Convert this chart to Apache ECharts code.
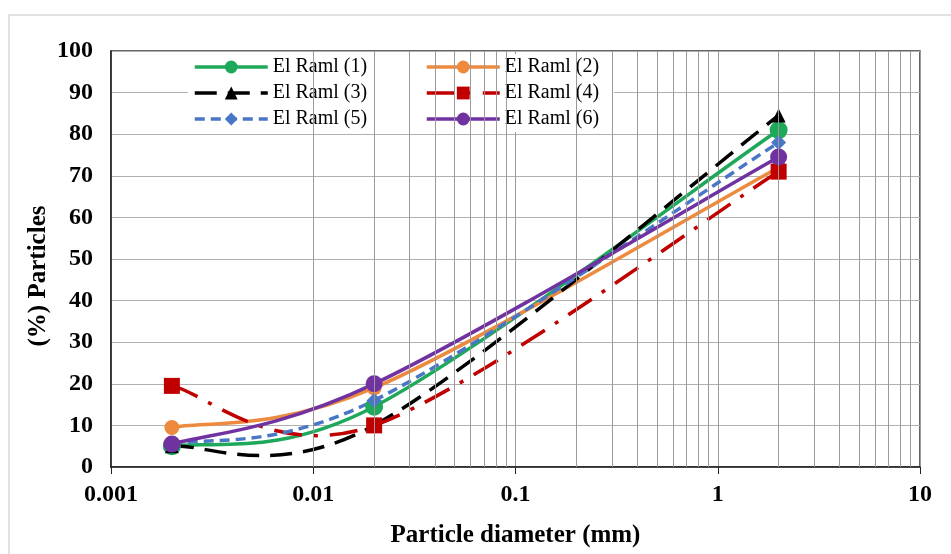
<!DOCTYPE html>
<html>
<head>
<meta charset="utf-8">
<script src="https://cdn.jsdelivr.net/npm/echarts@6/dist/echarts.min.js"></script>
<style>
  html, body { margin: 0; padding: 0; background: #fff; }
  #chart { width: 951px; height: 554px; }
</style>
</head>
<body>
<div id="chart"></div>
<script>
// particle diameters (mm) where samples were taken
const diameters = [0.002, 0.02, 2];

const seriesNames = ['El Raml (1)', 'El Raml (2)', 'El Raml (3)', 'El Raml (4)', 'El Raml (5)', 'El Raml (6)'];
const raml1 = [5, 14.5, 81];
const raml2 = [9.5, 19, 72];
const raml3 = [5, 10, 84.5];
const raml4 = [19.5, 10, 71];
const raml5 = [5.5, 16, 78];
const raml6 = [5.5, 20, 74.5];

// minor log gridlines (2..9 in each decade)
const minorGrid = [0.002, 0.003, 0.004, 0.005, 0.006, 0.007, 0.008, 0.009,
  0.02, 0.03, 0.04, 0.05, 0.06, 0.07, 0.08, 0.09,
  0.2, 0.3, 0.4, 0.5, 0.6, 0.7, 0.8, 0.9,
  2, 3, 4, 5, 6, 7, 8, 9];

const serif = 'Liberation Serif, Times New Roman, serif';
const LW = 3.5;
const chart = echarts.init(document.getElementById('chart'));

function pts(vals) {
  return diameters.map((d, i) => [d, vals[i]]);
}

// markers only; the curve itself is drawn by the custom series below
function markerSeries(name, vals, color, symbol, size, dash) {
  return {
    name: name,
    type: 'line',
    data: pts(vals),
    symbol: symbol,
    symbolSize: size,
    z: 4,
    itemStyle: { color: color },
    lineStyle: { color: color, width: LW, type: dash, opacity: 0 },
    emphasis: { disabled: true }
  };
}

// excel-like smoothed curve: cubic bezier, control arms = (next - prev) / 6
function curveSeries(name, vals, color, dash) {
  return {
    name: name,
    type: 'custom',
    data: pts(vals),
    z: 3,
    silent: true,
    renderItem: function (params, api) {
      const i = params.dataIndex;
      const n = vals.length;
      if (i >= n - 1) return null;
      const P = diameters.map((d, j) => api.coord([d, vals[j]]));
      const prev = P[Math.max(i - 1, 0)], a = P[i], b = P[i + 1], next = P[Math.min(i + 2, n - 1)];
      return {
        type: 'bezierCurve',
        shape: {
          x1: a[0], y1: a[1], x2: b[0], y2: b[1],
          cpx1: a[0] + (b[0] - prev[0]) / 6, cpy1: a[1] + (b[1] - prev[1]) / 6,
          cpx2: b[0] - (next[0] - a[0]) / 6, cpy2: b[1] - (next[1] - a[1]) / 6
        },
        style: { stroke: color, lineWidth: LW, lineDash: dash === 'solid' ? null : dash, fill: null }
      };
    }
  };
}

const styles = [
  { color: '#1ea85a', symbol: 'circle', size: 18, dash: 'solid' },
  { color: '#ed8a3e', symbol: 'circle', size: 15, dash: 'solid' },
  { color: '#000000', symbol: 'triangle', size: 14, dash: [22, 11] },
  { color: '#c00000', symbol: 'rect', size: 16, dash: [28, 12, 4, 12] },
  { color: '#4a76c6', symbol: 'diamond', size: 15, dash: [10, 6] },
  { color: '#7032a0', symbol: 'circle', size: 17, dash: 'solid' }
];
const allVals = [raml1, raml2, raml3, raml4, raml5, raml6];

const legendBase = {
  orient: 'vertical',
  itemWidth: 73,
  itemHeight: 16,
  itemGap: 6,
  backgroundColor: '#fff',
  lineStyle: { width: 3, opacity: 1 },
  textStyle: { fontFamily: serif, fontSize: 20, color: '#000', lineHeight: 20 },
  selectedMode: false
};

function legendItems(idx) {
  return idx.map(k => ({
    name: seriesNames[k],
    lineStyle: { width: 3.5, opacity: 1, color: styles[k].color },
    itemStyle: { color: styles[k].color }
  }));
}

const series = [{
  name: 'minor grid',
  type: 'line',
  data: [],
  z: 1,
  silent: true,
  markLine: {
    silent: true,
    symbol: 'none',
    label: { show: false },
    animation: false,
    lineStyle: { color: '#9a9a9a', width: 1, type: 'solid' },
    emphasis: { disabled: true },
    data: minorGrid.map(v => ({ xAxis: v }))
  }
}];
seriesNames.forEach((nm, k) => {
  const s = styles[k];
  series.push(markerSeries(nm, allVals[k], s.color, s.symbol, s.size, s.dash));
});
seriesNames.forEach((nm, k) => {
  series.push(curveSeries(nm, allVals[k], styles[k].color, styles[k].dash));
});

chart.setOption({
  animation: false,
  backgroundColor: '#fff',
  graphic: [{
    type: 'rect',
    shape: { x: 9, y: 15, width: 1000, height: 1000 },
    style: { fill: 'none', stroke: '#d9d9d9', lineWidth: 1.5 },
    silent: true
  }],
  grid: {
    left: 111, right: 31, top: 51, bottom: 87,
    show: true, borderColor: '#333', borderWidth: 1.5
  },
  legend: [
    Object.assign({}, legendBase, {
      data: legendItems([0, 2, 4]),
      left: 188, top: 54, padding: [3, 62, 3, 5]
    }),
    Object.assign({}, legendBase, {
      data: legendItems([1, 3, 5]),
      left: 420, top: 54, padding: [3, 15, 3, 5]
    })
  ],
  xAxis: {
    type: 'log',
    logBase: 10,
    min: 0.001,
    max: 10,
    name: 'Particle diameter (mm)',
    nameLocation: 'middle',
    nameGap: 56,
    nameTextStyle: { fontFamily: serif, fontSize: 25, fontWeight: 'bold', color: '#000' },
    axisLine: { lineStyle: { color: '#222', width: 1.5 } },
    axisTick: { show: true, length: 7, lineStyle: { color: '#222' } },
    axisLabel: {
      fontFamily: serif, fontSize: 24, fontWeight: 'bold', color: '#000', margin: 16,
      formatter: v => String(Number(v.toPrecision(3)))
    },
    splitLine: { show: true, lineStyle: { color: '#9a9a9a', width: 1 } }
  },
  yAxis: {
    type: 'value',
    min: 0,
    max: 100,
    interval: 10,
    name: '(%) Particles',
    nameLocation: 'middle',
    nameGap: 60,
    nameMoveOverlap: false,
    nameTextStyle: { fontFamily: serif, fontSize: 25, fontWeight: 'bold', color: '#000', padding: [0, 34, 0, 0] },
    axisLine: { show: true, lineStyle: { color: '#222', width: 1.5 } },
    axisTick: { show: false },
    axisLabel: { fontFamily: serif, fontSize: 24, fontWeight: 'bold', color: '#000', margin: 18 },
    splitLine: { show: true, lineStyle: { color: '#b0b0b0', width: 1 } }
  },
  series: series
});
</script>
</body>
</html>
